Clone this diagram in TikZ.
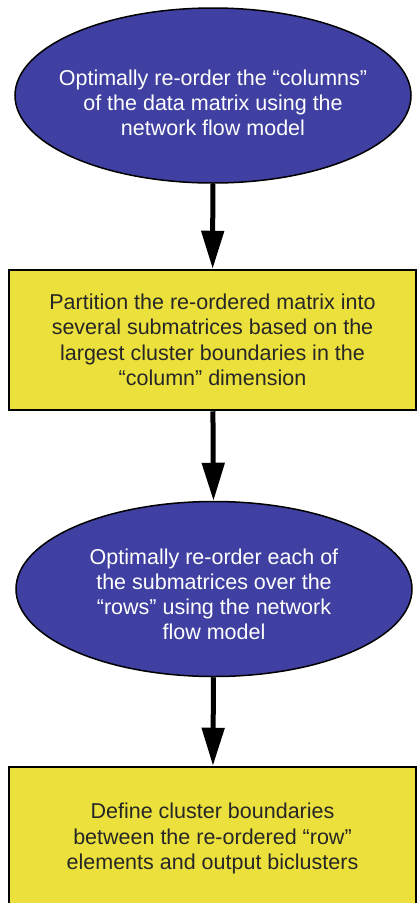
\documentclass[tikz,border=0pt]{standalone}
\usepackage{fontspec}
\setmainfont{Liberation Sans}
\usetikzlibrary{arrows.meta,shapes.geometric}
\definecolor{ovalblue}{RGB}{63,64,161}
\definecolor{boxyellow}{RGB}{236,225,60}

\begin{document}
\begin{tikzpicture}[x=1pt,y=-1pt,>={Triangle[length=38pt,width=22pt]},
  oval/.style={ellipse,draw=black,line width=1.5pt,fill=ovalblue,
    inner sep=0pt,minimum width=396pt,minimum height=175pt},
  ovaltext/.style={text=white,align=center,inner sep=0pt,
    font=\fontsize{21.5}{25}\selectfont},
  stepbox/.style={rectangle,draw=black,line width=2.5pt,fill=boxyellow,
    text={black!85},align=center,minimum width=407pt,
    font=\fontsize{21.5}{25.5}\selectfont},
  flow/.style={->,line width=5pt}]
\useasboundingbox (0,0) rectangle (416,903);

% Steps of the biclustering procedure
\node[oval] (reorder-cols) at (213,95.5) {};
\node[ovaltext] (reorder-cols-text) at ([yshift=-7pt]reorder-cols.center)
  {Optimally re-order the “columns”\\of the data matrix using the\\network flow model};
\node[stepbox,minimum height=140pt] (partition) at (212.5,340)
  {Partition the re-ordered matrix into\\several submatrices based on the\\largest cluster boundaries in the\\“column” dimension};
\node[oval] (reorder-rows) at (214,589) {};
\node[ovaltext] (reorder-rows-text) at ([yshift=-5pt]reorder-rows.center)
  {Optimally re-order each of\\the submatrices over the\\“rows” using the network\\flow model};
\node[stepbox,minimum height=143pt] (boundaries) at (212.5,838.5)
  {Define cluster boundaries\\between the re-ordered “row”\\elements and output biclusters};

% Arrows
\draw[flow] (reorder-cols) -- (partition);
\draw[flow] (partition) -- (reorder-rows);
\draw[flow] (reorder-rows) -- (boundaries);
\end{tikzpicture}
\end{document}
